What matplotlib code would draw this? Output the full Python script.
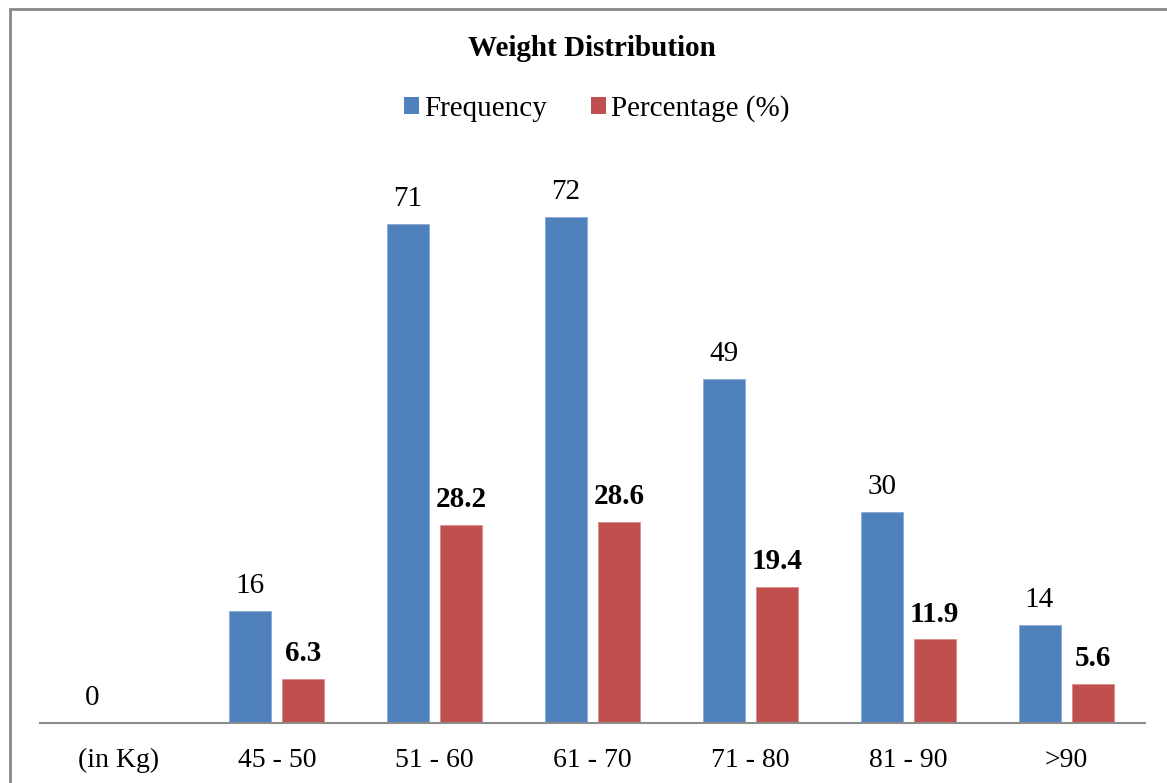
import numpy as np
import matplotlib
matplotlib.use("Agg")
import matplotlib.pyplot as plt
from matplotlib.patches import Patch, Rectangle

plt.rcParams['font.family'] = ['Liberation Serif', 'DejaVu Serif']

# weight classes and counts
categories = ['(in Kg)', '45 - 50', '51 - 60', '61 - 70', '71 - 80', '81 - 90', '>90']
frequency = [0, 16, 71, 72, 49, 30, 14]
percentage = [None, 6.3, 28.2, 28.6, 19.4, 11.9, 5.6]

blue = '#4F81BD'
red = '#C0504D'

W, H = 1167, 783
fig = plt.figure(figsize=(W / 100, H / 100), dpi=100)
fig.patch.set_facecolor('white')

# plot area in pixels
x0, x1 = 40, 1145
base = 723
ymax = 80
px_per_unit = 7.03
top = base - ymax * px_per_unit
ax = fig.add_axes([x0 / W, (H - base) / H, (x1 - x0) / W, (base - top) / H])

x = np.arange(len(categories))
width = 0.266
off = 0.168

pct_vals = [p if p is not None else 0 for p in percentage]
b1 = ax.bar(x - off, frequency, width, color=blue, edgecolor='#8EA9D3', linewidth=0.6)
b2 = ax.bar(x + off, pct_vals, width, color=red, edgecolor='#D98C8A', linewidth=0.6)
for i, p in enumerate(percentage):
    if p is None:
        b2[i].set_visible(False)

for xi, v in zip(x, frequency):
    ax.annotate(str(v), (xi - off, v), xytext=(0, 8.5), textcoords='offset points',
                ha='center', va='bottom', fontsize=21)
for xi, p in zip(x, percentage):
    if p is None:
        continue
    ax.annotate(f'{p:.1f}', (xi + off, p), xytext=(0, 8.5), textcoords='offset points',
                ha='center', va='bottom', fontsize=21, fontweight='bold')

ax.set_xlim(-0.5, len(categories) - 0.5)
ax.set_ylim(0, ymax)
ax.set_xticks(x)
ax.set_xticklabels(categories, fontsize=20)
ax.tick_params(axis='x', length=0, pad=18)
ax.set_yticks([])
for s in ['top', 'right', 'left']:
    ax.spines[s].set_visible(False)
ax.spines['bottom'].set_color('#8C8C8C')
ax.spines['bottom'].set_linewidth(1.5)

fig.text(592 / W, 1 - 49 / H, 'Weight Distribution', ha='center', va='center',
         fontsize=21, fontweight='bold')

handles = [Patch(facecolor=blue, label='Frequency'),
           Patch(facecolor=red, label='Percentage (%)')]
fig.legend(handles=handles, loc='center', bbox_to_anchor=(597 / W, 1 - 109 / H),
           ncol=2, frameon=False, fontsize=21, handlelength=0.5, handleheight=0.5,
           handletextpad=0.2, columnspacing=1.5, borderpad=0)

# chart frame
fig.patches.append(Rectangle((10 / W, -0.1), 1.2, 1.1 - 9 / H, transform=fig.transFigure,
                             fill=False, edgecolor='#888888', linewidth=2))

fig.savefig('out.png', dpi=100)
